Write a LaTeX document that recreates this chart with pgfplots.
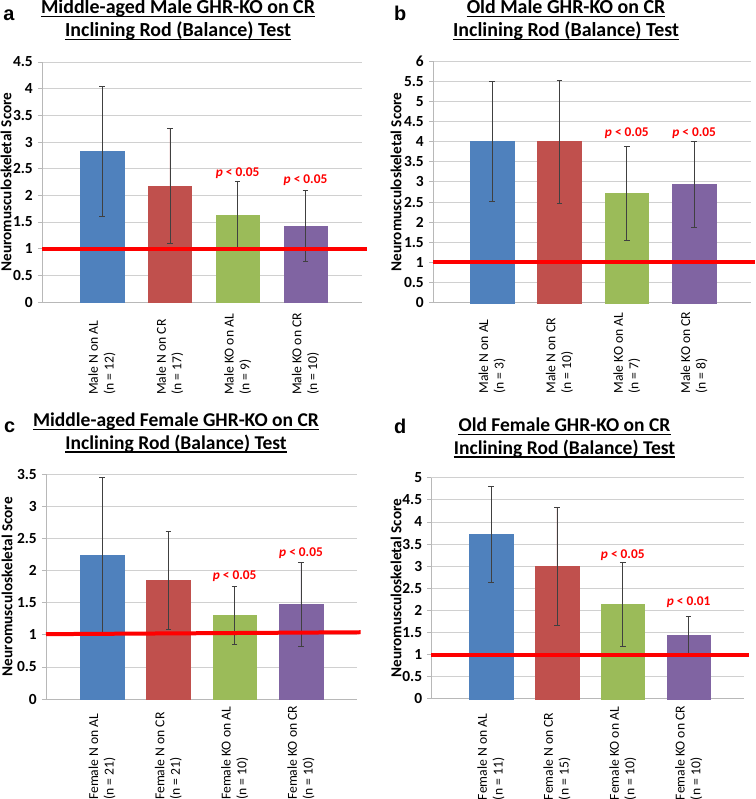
\documentclass[border=0pt]{standalone}
\usepackage{fontspec}
\setmainfont{Carlito}
\newfontfamily\letterfont{Liberation Sans}
\usepackage{pgfplots}
\pgfplotsset{compat=1.18}
\definecolor{cblue}{HTML}{4F81BD}
\definecolor{cred}{HTML}{C0504D}
\definecolor{cgreen}{HTML}{9BBB59}
\definecolor{cpurple}{HTML}{8064A2}
\definecolor{pred}{HTML}{FF0000}
\definecolor{gridgray}{HTML}{D0D0D0}
\definecolor{axgray}{HTML}{B8B8B8}
\pgfplotsset{
  panel/.style={
    scale only axis,
    axis lines=left,
    axis line style={-, draw=axgray, line width=0.8bp},
    ymajorgrids,
    major grid style={draw=gridgray, line width=0.8bp},
    ymin=0,
    ytick distance=0.5,
    xtick={0,1,2,3},
    xtick style={draw=none},
    ytick style={draw=axgray, line width=0.8bp},
    tick align=outside,
    major tick length=4bp,
    /pgf/number format/assume math mode=true,
    yticklabel style={font=\bfseries\fontsize{15.5}{15.5}\selectfont, inner sep=0pt, xshift=-5bp},
    xticklabel style={rotate=90, anchor=west, align=left, inner sep=0pt, font=\fontsize{13.7}{15.7}\selectfont},
    ylabel={Neuromusculoskeletal Score},
    ylabel style={font=\bfseries\fontsize{15.3}{15.3}\selectfont, anchor=center},
    clip=false,
    bar width=43.6bp,
  },
  mybar/.style={ybar, bar shift=0pt, draw=#1, fill=#1,
    error bars/.cd, y dir=both, y explicit,
    error bar style={line width=0.6bp, draw=black!75},
    error mark=-,
    error mark options={rotate=90, line width=0.6bp, draw=black!75, mark size=2.8bp}},
  redline/.style={sharp plot, no marks, draw=pred, line width=4bp, forget plot},
}
\tikzset{
  ttl/.style={font=\bfseries\fontsize{#1}{#1}\selectfont, inner sep=0pt, anchor=base},
  plab/.style={font=\bfseries\fontsize{13.4}{13.4}\selectfont, text=pred},
}
\newcommand{\ul}[1]{\draw[line width=1.2bp] ([yshift=-2.6bp]#1.base west) -- ([yshift=-2.6bp]#1.base east);}
\begin{document}
\begin{tikzpicture}
\path[use as bounding box] (0,0) rectangle (756bp,-799bp);

% ---------- panel a ----------
\node[ttl=20] (ta1) at (178bp,-13.5bp) {Middle-aged Male GHR-KO on CR};
\node[ttl=20] (ta2) at (178bp,-36.7bp) {Inclining Rod (Balance) Test};
\ul{ta1}\ul{ta2}
\node[font=\letterfont\bfseries\fontsize{20}{20}\selectfont, inner sep=0pt, anchor=base west] at (3.3bp,-20.7bp) {a};
\begin{axis}[panel, at={(42bp,-302bp)}, anchor=south west, width=320bp, height=240bp,
  xmin=-0.885, xmax=3.833, ymax=4.5,
  ylabel style={at={(axis description cs:-0.1125,0.5)}},
  xticklabel style={xshift=-89bp},
  xticklabels={{Male N on AL\\(n = 12)},{Male N on CR\\(n = 17)},{Male KO on AL\\(n = 9)},{Male KO on CR\\(n = 10)}}]
\addplot[mybar=cblue] coordinates {(0,2.83) +- (0,1.22)};
\addplot[mybar=cred] coordinates {(1,2.175) +- (0,1.08)};
\addplot[mybar=cgreen] coordinates {(2,1.625) +- (0,0.64)};
\addplot[mybar=cpurple] coordinates {(3,1.425) +- (0,0.67)};
\addplot[redline] coordinates {(-0.885,1) (3.91,1)};
\node[plab] at (axis cs:2,2.42) {\textit{p} < 0.05};
\node[plab] at (axis cs:3,2.29) {\textit{p} < 0.05};
\end{axis}

% ---------- panel b ----------
\node[ttl=20] (tb1) at (566bp,-13.5bp) {Old Male GHR-KO on CR};
\node[ttl=20] (tb2) at (566bp,-36.7bp) {Inclining Rod (Balance) Test};
\ul{tb1}\ul{tb2}
\node[font=\letterfont\bfseries\fontsize{20}{20}\selectfont, inner sep=0pt, anchor=base west] at (394bp,-20.7bp) {b};
\begin{axis}[panel, at={(433bp,-302.7bp)}, anchor=south west, width=317.7bp, height=241.7bp,
  xmin=-0.877, xmax=3.84, ymax=6,
  ylabel style={at={(axis description cs:-0.1165,0.5)}},
  xticklabel style={xshift=-87bp},
  xticklabels={{Male N on AL\\(n = 3)},{Male N on CR\\(n = 10)},{Male KO on AL\\(n = 7)},{Male KO on CR\\(n = 8)}}]
\addplot[mybar=cblue] coordinates {(0,4.0) +- (0,1.49)};
\addplot[mybar=cred] coordinates {(1,4.0) +- (0,1.52)};
\addplot[mybar=cgreen] coordinates {(2,2.715) +- (0,1.16)};
\addplot[mybar=cpurple] coordinates {(3,2.94) +- (0,1.07)};
\addplot[redline] coordinates {(-0.877,1) (3.90,1)};
\node[plab] at (axis cs:2,4.22) {\textit{p} < 0.05};
\node[plab] at (axis cs:3,4.22) {\textit{p} < 0.05};
\end{axis}

% ---------- panel c ----------
\node[ttl=19.6] (tc1) at (176bp,-426.7bp) {Middle-aged Female GHR-KO on CR};
\node[ttl=19.6] (tc2) at (176bp,-449.3bp) {Inclining Rod (Balance) Test};
\ul{tc1}\ul{tc2}
\node[font=\letterfont\bfseries\fontsize{20}{20}\selectfont, inner sep=0pt, anchor=base west] at (4bp,-432.3bp) {c};
\begin{axis}[panel, at={(46bp,-699bp)}, anchor=south west, width=310.7bp, height=224.7bp,
  xmin=-0.845, xmax=3.84, ymax=3.5,
  ylabel style={at={(axis description cs:-0.1255,0.5)}},
  xticklabel style={xshift=-97bp},
  xticklabels={{Female N on AL\\(n = 21)},{Female N on CR\\(n = 21)},{Female KO on AL\\(n = 10)},{Female KO on CR\\(n = 10)}}]
\addplot[mybar=cblue] coordinates {(0,2.243) +- (0,1.21)};
\addplot[mybar=cred] coordinates {(1,1.848) +- (0,0.76)};
\addplot[mybar=cgreen] coordinates {(2,1.303) +- (0,0.455)};
\addplot[mybar=cpurple] coordinates {(3,1.475) +- (0,0.655)};
\addplot[redline] coordinates {(-0.845,1.01) (3.90,1.04)};
\node[plab] at (axis cs:2,1.916) {\textit{p} < 0.05};
\node[plab] at (axis cs:3,2.27) {\textit{p} < 0.05};
\end{axis}

% ---------- panel d ----------
\node[ttl=19.6] (td1) at (564.5bp,-431.7bp) {Old Female GHR-KO on CR};
\node[ttl=19.6] (td2) at (564.5bp,-454.3bp) {Inclining Rod (Balance) Test};
\ul{td1}\ul{td2}
\node[font=\letterfont\bfseries\fontsize{20}{20}\selectfont, inner sep=0pt, anchor=base west] at (394bp,-433.3bp) {d};
\begin{axis}[panel, at={(431.3bp,-698.7bp)}, anchor=south west, width=312.4bp, height=221bp,
  xmin=-0.906, xmax=3.835, ymax=5,
  ylabel style={at={(axis description cs:-0.113,0.5)}},
  xticklabel style={xshift=-97.5bp},
  xticklabels={{Female N on AL\\(n = 11)},{Female N on CR\\(n = 15)},{Female KO on AL\\(n = 10)},{Female KO on CR\\(n = 10)}}]
\addplot[mybar=cblue] coordinates {(0,3.718) +- (0,1.08)};
\addplot[mybar=cred] coordinates {(1,3.0) +- (0,1.34)};
\addplot[mybar=cgreen] coordinates {(2,2.142) +- (0,0.95)};
\addplot[mybar=cpurple] coordinates {(3,1.44) +- (0,0.43)};
\addplot[redline] coordinates {(-0.906,1) (3.91,1)};
\node[plab] at (axis cs:2,3.25) {\textit{p} < 0.05};
\node[plab] at (axis cs:3,2.19) {\textit{p} < 0.01};
\end{axis}
\end{tikzpicture}
\end{document}
